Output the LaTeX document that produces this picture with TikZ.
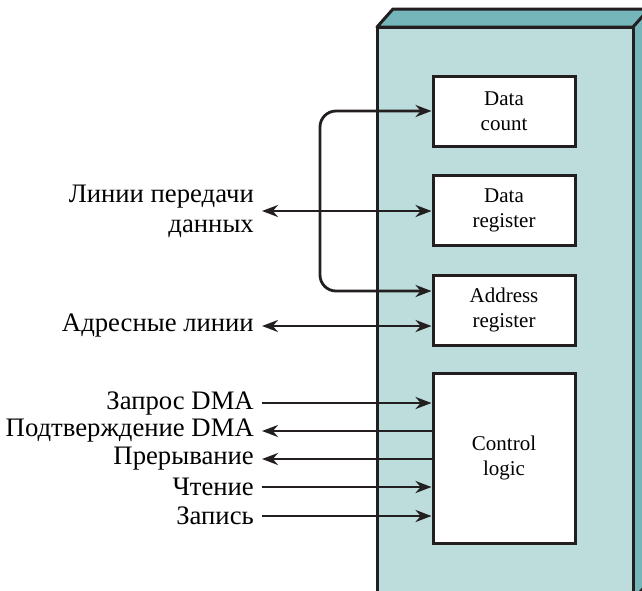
\documentclass[tikz,border=0pt]{standalone}
\usepackage{fontspec}
\setmainfont{Liberation Serif}
\newfontfamily\diagfont{Liberation Serif}
\usetikzlibrary{positioning, arrows.meta, calc}
\definecolor{facelight}{HTML}{BDDCDC}
\definecolor{facedark}{HTML}{74B6B9}
\definecolor{inkline}{HTML}{231F20}
\tikzset{
  regbox/.style={
    draw=inkline, line width=3pt, fill=white,
    minimum width=142pt, minimum height=70pt,
    font=\diagfont\fontsize{21}{25}\selectfont, align=center
  },
  siglabel/.style={
    anchor=east, inner sep=8pt,
    font=\diagfont\fontsize{26.7}{30}\selectfont, align=right
  },
  flow/.style={-{Stealth[length=16pt,width=12pt]}, line width=2.8pt, draw=inkline},
  backflow/.style={{Stealth[length=16pt,width=12pt]}-, line width=2.8pt, draw=inkline},
  dflow/.style={{Stealth[length=16pt,width=12pt]}-{Stealth[length=16pt,width=12pt]},
    line width=2.8pt, draw=inkline},
}

\begin{document}
\begin{tikzpicture}[x=1pt, y=-1pt]
  \useasboundingbox (0,0) rectangle (642,590);
  \clip (0,0) rectangle (642,590);

  % the controller block
  \draw[draw=inkline, line width=3pt, fill=facedark, line join=round]
    (377,27) -- (393,9) -- (649,9) -- (649,582) -- (633,600) -- (633,27) -- cycle;
  \draw[draw=inkline, line width=3pt, fill=facelight] (377,27) rectangle (633,600);
  \draw[draw=inkline, line width=3pt] (633,27) -- (649,9);

  \node[regbox] (dcount) at (504,111) {Data\\count};
  \node[regbox] (dreg) at (504,210) {Data\\register};
  \node[regbox] (areg) at (504,310) {Address\\register};
  \node[regbox, minimum height=170pt] (ctrl) at (504,458) {Control\\logic};

  % data lines
  \node[siglabel] (datalbl) at (262,211) {Линии передачи\\данных};
  \coordinate (busx) at (320,210);
  \draw[dflow] (datalbl.east) -- (datalbl.east -| dreg.west);
  \draw[dflow, rounded corners=16pt]
    ([yshift=19pt]areg.west) -| (busx) |- (dcount.west);

  % address lines
  \node[siglabel] (addrlbl) at (262,326) {Адресные линии};
  \draw[dflow] (addrlbl.east) -- (addrlbl.east -| areg.west);

  % control signals
  \foreach \name/\txt/\yy/\kind in {
      req/Запрос DMA/403/flow,
      ack/Подтверждение DMA/431/backflow,
      intr/Прерывание/459/backflow,
      rd/Чтение/487/flow,
      wr/Запись/516/flow} {
    \node[siglabel] (\name) at (262,\yy) {\txt};
    \draw[\kind] (\name.east) -- (\name.east -| ctrl.west);
  }
\end{tikzpicture}
\end{document}
